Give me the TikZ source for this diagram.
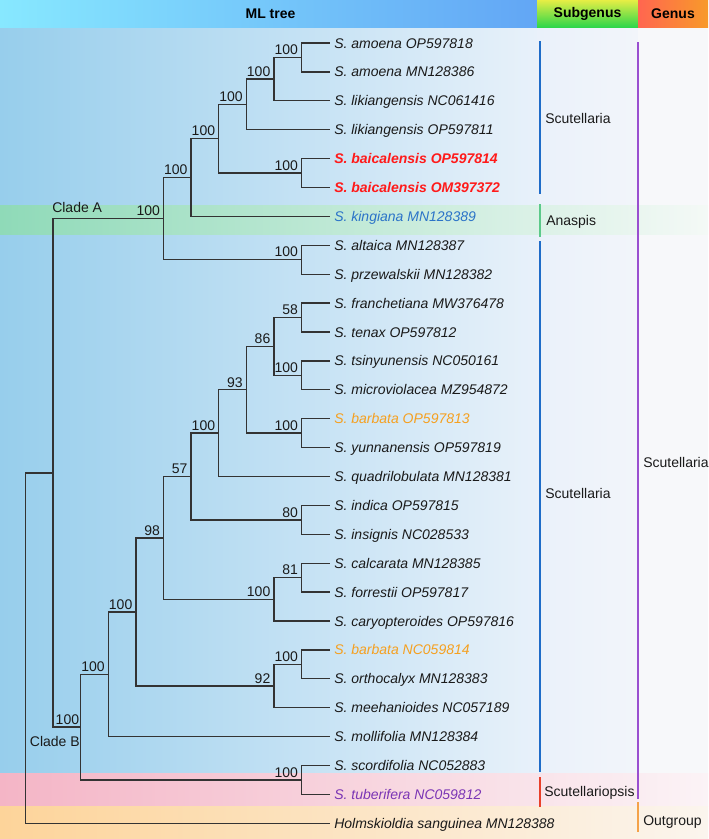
\documentclass[tikz,border=0pt]{standalone}
\usepackage{fontspec}
\setmainfont{Liberation Sans}
\definecolor{treecol}{HTML}{333333}
\definecolor{txtcol}{HTML}{1A1A1A}
\definecolor{baic}{HTML}{FF1A1A}
\definecolor{king}{HTML}{2B73C8}
\definecolor{barb}{HTML}{F5A020}
\definecolor{tube}{HTML}{7B35B5}
\definecolor{barblue}{HTML}{1F6CC8}
\definecolor{bargreen}{HTML}{5CC98A}
\definecolor{barred}{HTML}{E8402A}
\definecolor{barpurple}{HTML}{9A4FD0}
\definecolor{barorange}{HTML}{F4A24A}
\definecolor{bgL}{RGB}{151,206,236}
\definecolor{bgM}{RGB}{196,227,244}
\definecolor{bgR}{RGB}{232,241,250}
\definecolor{sgL}{RGB}{234,241,250}
\definecolor{sgR}{RGB}{242,245,250}
\definecolor{gnB}{RGB}{247,248,250}
\definecolor{grL}{RGB}{143,218,184}
\definecolor{grM}{RGB}{186,232,210}
\definecolor{grR}{RGB}{244,249,246}
\definecolor{pkL}{RGB}{244,181,198}
\definecolor{pkM}{RGB}{247,212,222}
\definecolor{pkR}{RGB}{251,243,246}
\definecolor{orL}{RGB}{253,212,154}
\definecolor{orM}{RGB}{252,228,196}
\definecolor{orR}{RGB}{251,245,238}
\definecolor{hMLL}{RGB}{135,232,255}
\definecolor{hMLR}{RGB}{98,166,245}
\definecolor{hSgT}{RGB}{230,238,69}
\definecolor{hSgB}{RGB}{46,214,74}
\definecolor{hGnL}{RGB}{255,102,80}
\definecolor{hGnR}{RGB}{248,154,42}
\begin{document}
\begin{tikzpicture}[x=0.75pt,y=-0.75pt,
  tree/.style={draw=treecol, line width=1pt},
  txt/.style={font=\fontsize{10.5}{12.6}\selectfont, text=txtcol},
  leaf/.style={txt, anchor=west, inner xsep=3pt, inner ysep=0pt, text height=7.5pt, text depth=0pt, font=\fontsize{10.5}{12.6}\selectfont\itshape},
  bs/.style={txt, anchor=south east, inner sep=0pt},
  grp/.style={txt, anchor=west, inner sep=0pt},
  hdr/.style={font=\fontsize{10.5}{12.6}\selectfont\bfseries, text=black, inner sep=0pt},
  bar/.style={line width=0.9pt}
]
\useasboundingbox (0,0) rectangle (708,839);
% backgrounds
\shade[left color=bgL, middle color=bgM, right color=bgR] (0,27) rectangle (537,839);
\shade[left color=sgL, right color=sgR] (537,27) rectangle (638,839);
\fill[gnB] (638,27) rectangle (708,839);
% bands
\shade[left color=grL, middle color=grM, right color=grR] (0,205.5) rectangle (708,234);
\shade[left color=pkL, middle color=pkM, right color=pkR] (0,773) rectangle (708,806);
\shade[left color=orL, middle color=orM, right color=orR] (0,806) rectangle (708,839);
% header
\shade[left color=hMLL, right color=hMLR] (0,0) rectangle (537,27);
\shade[top color=hSgT, bottom color=hSgB] (537,0) rectangle (638,27);
\shade[left color=hGnL, right color=hGnR] (638,0) rectangle (708,27);
\node[hdr] (hML) at (270.5,13.5) {ML tree};
\node[hdr] (hSub) at (587.5,13.5) {Subgenus};
\node[hdr] (hGen) at (673,13.5) {Genus};

% leaves
\node[leaf] (l1) at (330,43) {S. amoena OP597818};
\node[leaf] (l2) at (330,71.9) {S. amoena MN128386};
\node[leaf] (l3) at (330,100.8) {S. likiangensis NC061416};
\node[leaf] (l4) at (330,129.7) {S. likiangensis OP597811};
\node[leaf, text=baic, font=\fontsize{10.5}{12.6}\selectfont\bfseries\itshape] (l5) at (330,158.6) {S. baicalensis OP597814};
\node[leaf, text=baic, font=\fontsize{10.5}{12.6}\selectfont\bfseries\itshape] (l6) at (330,187.5) {S. baicalensis OM397372};
\node[leaf, text=king] (l7) at (330,216.4) {S. kingiana MN128389};
\node[leaf] (l8) at (330,245.3) {S. altaica MN128387};
\node[leaf] (l9) at (330,274.2) {S. przewalskii MN128382};
\node[leaf] (l10) at (330,303.1) {S. franchetiana MW376478};
\node[leaf] (l11) at (330,332.0) {S. tenax OP597812};
\node[leaf] (l12) at (330,360.9) {S. tsinyunensis NC050161};
\node[leaf] (l13) at (330,389.8) {S. microviolacea MZ954872};
\node[leaf, text=barb] (l14) at (330,418.7) {S. barbata OP597813};
\node[leaf] (l15) at (330,447.6) {S. yunnanensis OP597819};
\node[leaf] (l16) at (330,476.5) {S. quadrilobulata MN128381};
\node[leaf] (l17) at (330,505.4) {S. indica OP597815};
\node[leaf] (l18) at (330,534.3) {S. insignis NC028533};
\node[leaf] (l19) at (330,563.2) {S. calcarata MN128385};
\node[leaf] (l20) at (330,592.1) {S. forrestii OP597817};
\node[leaf] (l21) at (330,621.0) {S. caryopteroides OP597816};
\node[leaf, text=barb] (l22) at (330,649.9) {S. barbata NC059814};
\node[leaf] (l23) at (330,678.8) {S. orthocalyx MN128383};
\node[leaf] (l24) at (330,707.7) {S. meehanioides NC057189};
\node[leaf] (l25) at (330,736.6) {S. mollifolia MN128384};
\node[leaf] (l26) at (330,765.5) {S. scordifolia NC052883};
\node[leaf, text=tube] (l27) at (330,794.4) {S. tuberifera NC059812};
\node[leaf] (l28) at (330,823.3) {Holmskioldia sanguinea MN128388};

% internal nodes
\coordinate (nA1) at (301.5,57.45);
\coordinate (nA2) at (273.9,79.13);
\coordinate (nA3) at (246.3,104.41);
\coordinate (nA5) at (301.5,173.05);
\coordinate (nA4) at (218.7,138.73);
\coordinate (nA6) at (191.1,177.57);
\coordinate (nA7) at (301.5,259.75);
\coordinate (nA) at (163.5,218.66);
\coordinate (nB1) at (301.5,317.55);
\coordinate (nB2) at (301.5,375.35);
\coordinate (nB3) at (273.9,346.45);
\coordinate (nB4) at (301.5,433.15);
\coordinate (nB5) at (246.3,389.8);
\coordinate (nB6) at (218.7,433.15);
\coordinate (nB7) at (301.5,519.85);
\coordinate (nB8) at (191.1,476.5);
\coordinate (nB9) at (301.5,577.65);
\coordinate (nB10) at (273.9,599.33);
\coordinate (nB11) at (163.5,537.91);
\coordinate (nB12) at (301.5,664.35);
\coordinate (nB13) at (273.9,686.03);
\coordinate (nB14) at (135.9,611.97);
\coordinate (nB15) at (108.3,674.28);
\coordinate (nB16) at (301.5,779.95);
\coordinate (nB) at (80.7,727.12);
\coordinate (nAB) at (53.1,472.89);
\coordinate (root) at (25.5,648.1);

% branches
\draw[tree] (nA1) |- (l1.west);
\draw[tree] (nA1) |- (l2.west);
\draw[tree] (nA2) |- (nA1);
\draw[tree] (nA2) |- (l3.west);
\draw[tree] (nA3) |- (nA2);
\draw[tree] (nA3) |- (l4.west);
\draw[tree] (nA5) |- (l5.west);
\draw[tree] (nA5) |- (l6.west);
\draw[tree] (nA4) |- (nA3);
\draw[tree] (nA4) |- (nA5);
\draw[tree] (nA6) |- (nA4);
\draw[tree] (nA6) |- (l7.west);
\draw[tree] (nA7) |- (l8.west);
\draw[tree] (nA7) |- (l9.west);
\draw[tree] (nA) |- (nA6);
\draw[tree] (nA) |- (nA7);
\draw[tree] (nB1) |- (l10.west);
\draw[tree] (nB1) |- (l11.west);
\draw[tree] (nB2) |- (l12.west);
\draw[tree] (nB2) |- (l13.west);
\draw[tree] (nB3) |- (nB1);
\draw[tree] (nB3) |- (nB2);
\draw[tree] (nB4) |- (l14.west);
\draw[tree] (nB4) |- (l15.west);
\draw[tree] (nB5) |- (nB3);
\draw[tree] (nB5) |- (nB4);
\draw[tree] (nB6) |- (nB5);
\draw[tree] (nB6) |- (l16.west);
\draw[tree] (nB7) |- (l17.west);
\draw[tree] (nB7) |- (l18.west);
\draw[tree] (nB8) |- (nB6);
\draw[tree] (nB8) |- (nB7);
\draw[tree] (nB9) |- (l19.west);
\draw[tree] (nB9) |- (l20.west);
\draw[tree] (nB10) |- (nB9);
\draw[tree] (nB10) |- (l21.west);
\draw[tree] (nB11) |- (nB8);
\draw[tree] (nB11) |- (nB10);
\draw[tree] (nB12) |- (l22.west);
\draw[tree] (nB12) |- (l23.west);
\draw[tree] (nB13) |- (nB12);
\draw[tree] (nB13) |- (l24.west);
\draw[tree] (nB14) |- (nB11);
\draw[tree] (nB14) |- (nB13);
\draw[tree] (nB15) |- (nB14);
\draw[tree] (nB15) |- (l25.west);
\draw[tree] (nB16) |- (l26.west);
\draw[tree] (nB16) |- (l27.west);
\draw[tree] (nB) |- (nB15);
\draw[tree] (nB) |- (nB16);
\draw[tree] (nAB) |- (nA);
\draw[tree] (nAB) |- (nB);
\draw[tree] (root) |- (nAB);
\draw[tree] (root) |- (l28.west);

% bootstrap values
\node[bs] (bA1) at ([xshift=-2.5pt,yshift=1.8pt]nA1) {100};
\node[bs] (bA2) at ([xshift=-2.5pt,yshift=1.8pt]nA2) {100};
\node[bs] (bA3) at ([xshift=-2.5pt,yshift=1.8pt]nA3) {100};
\node[bs] (bA5) at ([xshift=-2.5pt,yshift=1.8pt]nA5) {100};
\node[bs] (bA4) at ([xshift=-2.5pt,yshift=1.8pt]nA4) {100};
\node[bs] (bA6) at ([xshift=-2.5pt,yshift=1.8pt]nA6) {100};
\node[bs] (bA7) at ([xshift=-2.5pt,yshift=1.8pt]nA7) {100};
\node[bs] (bA) at ([xshift=-2.5pt,yshift=1.8pt]nA) {100};
\node[bs] (bB1) at ([xshift=-2.5pt,yshift=1.8pt]nB1) {58};
\node[bs] (bB2) at ([xshift=-2.5pt,yshift=1.8pt]nB2) {100};
\node[bs] (bB3) at ([xshift=-2.5pt,yshift=1.8pt]nB3) {86};
\node[bs] (bB4) at ([xshift=-2.5pt,yshift=1.8pt]nB4) {100};
\node[bs] (bB5) at ([xshift=-2.5pt,yshift=1.8pt]nB5) {93};
\node[bs] (bB6) at ([xshift=-2.5pt,yshift=1.8pt]nB6) {100};
\node[bs] (bB7) at ([xshift=-2.5pt,yshift=1.8pt]nB7) {80};
\node[bs] (bB8) at ([xshift=-2.5pt,yshift=1.8pt]nB8) {57};
\node[bs] (bB9) at ([xshift=-2.5pt,yshift=1.8pt]nB9) {81};
\node[bs] (bB10) at ([xshift=-2.5pt,yshift=1.8pt]nB10) {100};
\node[bs] (bB11) at ([xshift=-2.5pt,yshift=1.8pt]nB11) {98};
\node[bs] (bB12) at ([xshift=-2.5pt,yshift=1.8pt]nB12) {100};
\node[bs] (bB13) at ([xshift=-2.5pt,yshift=1.8pt]nB13) {92};
\node[bs] (bB14) at ([xshift=-2.5pt,yshift=1.8pt]nB14) {100};
\node[bs] (bB15) at ([xshift=-2.5pt,yshift=1.8pt]nB15) {100};
\node[bs] (bB16) at ([xshift=-2.5pt,yshift=1.8pt]nB16) {100};
\node[bs] (bB) at ([xshift=-1pt,yshift=1.8pt]nB) {100};

% clade labels
\node[txt, anchor=south west, inner sep=0pt] (cA) at (52,213) {Clade A};
\node[txt, anchor=east, inner sep=0pt] (cB) at (80,741) {Clade B};

% subgenus / genus bars
\draw[bar, barblue] (540,41) -- (540,194);
\draw[bar, bargreen] (540,204) -- (540,237);
\draw[bar, barblue] (540,241) -- (540,772);
\draw[bar, barred] (540,777) -- (540,807);
\draw[bar, barpurple] (638,42) -- (638,799);
\draw[bar, barorange] (638,802) -- (638,832);

\node[grp] (g1) at (545,118) {Scutellaria};
\node[grp] (g2) at (546,222) {Anaspis};
\node[grp] (g3) at (545,493) {Scutellaria};
\node[grp] (g4) at (544,793) {Scutellariopsis};
\node[grp] (g5) at (643,462) {Scutellaria};
\node[grp] (g6) at (643,822) {Outgroup};
\end{tikzpicture}
\end{document}
